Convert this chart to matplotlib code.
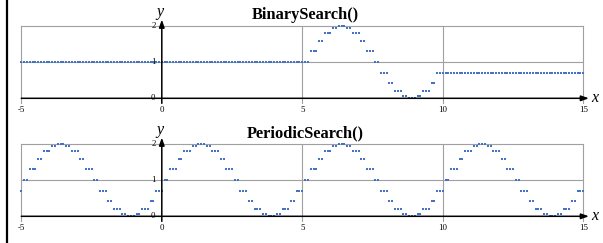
import numpy as np
import matplotlib
matplotlib.use("Agg")
import matplotlib.pyplot as plt
from matplotlib.lines import Line2D

# =====================================================
# DATA  (x from -5 to 15 in steps of 0.1)
# =====================================================

x_values = np.round(np.arange(-50, 151) / 10, 1)

binary_search = [
    1.0, 1.0, 1.0, 1.0, 1.0, 1.0, 1.0, 1.0, 1.0, 1.0,
    1.0, 1.0, 1.0, 1.0, 1.0, 1.0, 1.0, 1.0, 1.0, 1.0,
    1.0, 1.0, 1.0, 1.0, 1.0, 1.0, 1.0, 1.0, 1.0, 1.0,
    1.0, 1.0, 1.0, 1.0, 1.0, 1.0, 1.0, 1.0, 1.0, 1.0,
    1.0, 1.0, 1.0, 1.0, 1.0, 1.0, 1.0, 1.0, 1.0, 1.0,
    1.0, 1.0, 1.0, 1.0, 1.0, 1.0, 1.0, 1.0, 1.0, 1.0,
    1.0, 1.0, 1.0, 1.0, 1.0, 1.0, 1.0, 1.0, 1.0, 1.0,
    1.0, 1.0, 1.0, 1.0, 1.0, 1.0, 1.0, 1.0, 1.0, 1.0,
    1.0, 1.0, 1.0, 1.0, 1.0, 1.0, 1.0, 1.0, 1.0, 1.0,
    1.0, 1.0, 1.0, 1.0, 1.0, 1.0, 1.0, 1.0, 1.0, 1.0,
    1.0, 1.0, 1.0,
    1.31, 1.31, 1.31, 1.59, 1.59, 1.81, 1.81, 1.81, 1.95, 1.95,
    2.0, 2.0, 2.0, 1.95, 1.95, 1.81, 1.81, 1.81, 1.59, 1.59,
    1.31, 1.31, 1.31, 1.0, 1.0, 0.69, 0.69, 0.69, 0.41, 0.41,
    0.19, 0.19, 0.19, 0.05, 0.05, 0.0, 0.0, 0.0, 0.05, 0.05,
    0.19, 0.19, 0.19, 0.41, 0.41, 0.69, 0.69,
    0.69, 0.69, 0.69, 0.69, 0.69, 0.69, 0.69, 0.69, 0.69, 0.69,
    0.69, 0.69, 0.69, 0.69, 0.69, 0.69, 0.69, 0.69, 0.69, 0.69,
    0.69, 0.69, 0.69, 0.69, 0.69, 0.69, 0.69, 0.69, 0.69, 0.69,
    0.69, 0.69, 0.69, 0.69, 0.69, 0.69, 0.69, 0.69, 0.69, 0.69,
    0.69, 0.69, 0.69, 0.69, 0.69, 0.69, 0.69, 0.69, 0.69, 0.69,
    0.69,
]

periodic_search = [
    0.69, 1.0, 1.0, 1.31, 1.31, 1.31, 1.59, 1.59, 1.81, 1.81,
    1.81, 1.95, 1.95, 2.0, 2.0, 2.0, 1.95, 1.95, 1.81, 1.81,
    1.81, 1.59, 1.59, 1.31, 1.31, 1.31, 1.0, 1.0, 0.69, 0.69,
    0.69, 0.41, 0.41, 0.19, 0.19, 0.19, 0.05, 0.05, 0.0, 0.0,
    0.0, 0.05, 0.05, 0.19, 0.19, 0.19, 0.41, 0.41, 0.69, 0.69,
    0.69, 1.0, 1.0, 1.31, 1.31, 1.31, 1.59, 1.59, 1.81, 1.81,
    1.81, 1.95, 1.95, 2.0, 2.0, 2.0, 1.95, 1.95, 1.81, 1.81,
    1.81, 1.59, 1.59, 1.31, 1.31, 1.31, 1.0, 1.0, 0.69, 0.69,
    0.69, 0.41, 0.41, 0.19, 0.19, 0.19, 0.05, 0.05, 0.0, 0.0,
    0.0, 0.05, 0.05, 0.19, 0.19, 0.19, 0.41, 0.41, 0.69, 0.69,
    0.69, 1.0, 1.0, 1.31, 1.31, 1.31, 1.59, 1.59, 1.81, 1.81,
    1.81, 1.95, 1.95, 2.0, 2.0, 2.0, 1.95, 1.95, 1.81, 1.81,
    1.81, 1.59, 1.59, 1.31, 1.31, 1.31, 1.0, 1.0, 0.69, 0.69,
    0.69, 0.41, 0.41, 0.19, 0.19, 0.19, 0.05, 0.05, 0.0, 0.0,
    0.0, 0.05, 0.05, 0.19, 0.19, 0.19, 0.41, 0.41, 0.69, 0.69,
    0.69, 1.0, 1.0, 1.31, 1.31, 1.31, 1.59, 1.59, 1.81, 1.81,
    1.81, 1.95, 1.95, 2.0, 2.0, 2.0, 1.95, 1.95, 1.81, 1.81,
    1.81, 1.59, 1.59, 1.31, 1.31, 1.31, 1.0, 1.0, 0.69, 0.69,
    0.69, 0.41, 0.41, 0.19, 0.19, 0.19, 0.05, 0.05, 0.0, 0.0,
    0.0, 0.05, 0.05, 0.19, 0.19, 0.19, 0.41, 0.41, 0.69, 0.69,
    0.69,
]

titles = ["BinarySearch()", "PeriodicSearch()"]
x_ticks = [-5, 0, 5, 10, 15]
y_ticks = [0, 1, 2]

# =====================================================
# STYLE
# =====================================================

plt.rcParams["font.family"] = ["Liberation Serif", "DejaVu Serif"]

W, H = 603, 243
BLUE = "#4472C4"
GRID = "#A0A0A0"

fig = plt.figure(figsize=(W / 100, H / 100), dpi=100)

# pixel scale: 28.1 px per x unit, 36.1 px per y unit
px_x = 28.1
px_y = 36.1
x_left = -5 - 21.3 / px_x
x_right = x_left + W / px_x


def make_panel(top_px, bottom_px, zero_px):
    ax = fig.add_axes([0, 1 - bottom_px / H, 1, (bottom_px - top_px) / H])
    ax.set_xlim(x_left, x_right)
    ax.set_ylim((zero_px - bottom_px) / px_y, (zero_px - top_px) / px_y)
    ax.axis("off")
    return ax


panels = [
    make_panel(0, 121.5, 98.3),
    make_panel(121.5, 243, 216.3),
]

for ax, title, series in zip(panels, titles, [binary_search, periodic_search]):
    # grid lines
    for yv in y_ticks[1:]:
        ax.plot([x_ticks[0], x_ticks[-1]], [yv, yv], color=GRID, lw=0.8, zorder=1)
    for xv in [-5, 5, 10, 15]:
        ax.plot([xv, xv], [-0.12, y_ticks[-1]], color=GRID, lw=0.8, zorder=1)

    # x axis with arrow
    ax.annotate("", xy=(15.2, 0), xytext=(-5, 0),
                arrowprops=dict(arrowstyle="-|>,head_length=0.45,head_width=0.16",
                                color="black", lw=1.1, shrinkA=0, shrinkB=0),
                zorder=3)
    # y axis with arrow
    ax.annotate("", xy=(0, 2.18), xytext=(0, -0.14),
                arrowprops=dict(arrowstyle="-|>,head_length=0.45,head_width=0.16",
                                color="black", lw=1.1, shrinkA=0, shrinkB=0),
                zorder=3)

    ax.plot(x_values, series, linestyle="none", marker="s", markersize=1.9,
            markeredgewidth=0, color=BLUE, zorder=2)

    for xv in x_ticks:
        ax.text(xv, -0.22, str(xv), ha="center", va="top", fontsize=6.3)
    for yv in y_ticks:
        ax.text(-0.22, yv, str(yv), ha="right", va="center", fontsize=6.3, zorder=4)

    ax.text(15.28, 0, "x", style="italic", fontsize=11.5, ha="left", va="center")
    ax.text(-0.08, 2.38, "y", style="italic", fontsize=11.5, ha="center", va="center")
    ax.text(5.12, 2.3, title, fontweight="bold", fontsize=11.8, ha="center", va="center")

# black bar on the left edge
fig.add_artist(Line2D([7 / W, 7 / W], [0, 1], color="black", lw=1.6))

fig.savefig("out.png", dpi=100)
